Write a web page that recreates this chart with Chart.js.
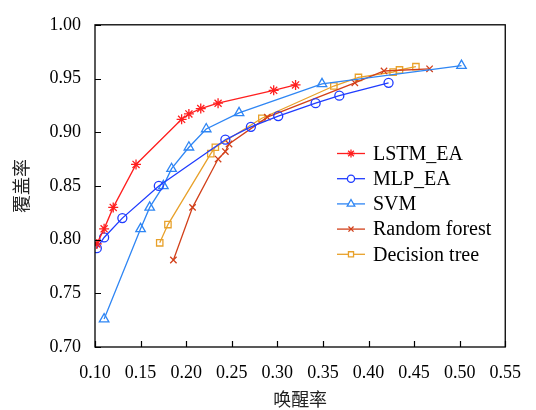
<!DOCTYPE html>
<html>
<head>
<meta charset="utf-8">
<script src="https://cdn.jsdelivr.net/npm/chart.js@4/dist/chart.umd.min.js"></script>
<style>
html,body{margin:0;padding:0;background:#fff;}
#wrap{width:536px;height:410px;position:relative;}
</style>
</head>
<body>
<div id="wrap"><canvas id="c" width="536" height="410"></canvas></div>
<script>
// Data
const seriesNames = ["LSTM_EA", "MLP_EA", "SVM", "Random forest", "Decision tree"];

const lstmX = [0.102, 0.110, 0.120, 0.145, 0.195, 0.203, 0.216, 0.235, 0.296, 0.320];
const lstmY = [0.796, 0.810, 0.830, 0.870, 0.912, 0.917, 0.922, 0.927, 0.939, 0.944];

const mlpX = [0.102, 0.110, 0.130, 0.170, 0.243, 0.271, 0.301, 0.342, 0.368, 0.422];
const mlpY = [0.792, 0.802, 0.820, 0.850, 0.893, 0.905, 0.915, 0.927, 0.934, 0.946];

const svmX = [0.110, 0.150, 0.160, 0.175, 0.184, 0.203, 0.222, 0.258, 0.349, 0.502];
const svmY = [0.726, 0.810, 0.830, 0.850, 0.866, 0.886, 0.903, 0.918, 0.945, 0.962];

const rfX = [0.186, 0.207, 0.235, 0.243, 0.247, 0.289, 0.385, 0.417, 0.467];
const rfY = [0.781, 0.830, 0.875, 0.882, 0.889, 0.914, 0.946, 0.957, 0.959];

const dtX = [0.171, 0.180, 0.227, 0.232, 0.283, 0.362, 0.389, 0.427, 0.434, 0.452];
const dtY = [0.797, 0.814, 0.880, 0.886, 0.913, 0.943, 0.951, 0.956, 0.958, 0.961];

const xTicks = [0.10, 0.15, 0.20, 0.25, 0.30, 0.35, 0.40, 0.45, 0.50, 0.55];
const yTicks = [0.70, 0.75, 0.80, 0.85, 0.90, 0.95, 1.00];

const xTitle = "唤醒率";
const yTitle = "覆盖率";

function pts(xs, ys){ return xs.map((x,i)=>({x:x, y:ys[i]})); }

const styles = [
  {color:"#ff1f1f", point:"star", r:5},
  {color:"#1f3cff", point:"circle", r:4.5},
  {color:"#2f86f4", point:"triangle", r:5.5},
  {color:"#d2401a", point:"crossRot", r:4.5},
  {color:"#e8a12a", point:"rect", r:4.5}
];
const dataPairs = [[lstmX,lstmY],[mlpX,mlpY],[svmX,svmY],[rfX,rfY],[dtX,dtY]];

const datasets = dataPairs.map((p,i)=>({
  label: seriesNames[i],
  data: pts(p[0], p[1]),
  showLine: true,
  borderColor: styles[i].color,
  backgroundColor: "rgba(0,0,0,0)",
  borderWidth: 1.3,
  pointStyle: styles[i].point,
  pointRadius: styles[i].r,
  pointBorderColor: styles[i].color,
  pointBackgroundColor: "rgba(0,0,0,0)",
  pointBorderWidth: 1.3,
  tension: 0
}));

const CA = {left:95, right:512, top:21, bottom:347};

const framePlugin = {
  id: "frame",
  afterDatasetsDraw(chart){
    const ctx = chart.ctx, a = chart.chartArea;
    const xs = chart.scales.x, ys = chart.scales.y;
    ctx.save();
    ctx.strokeStyle = "#000";
    ctx.lineWidth = 1.3;
    ctx.strokeRect(a.left, a.top, a.right - a.left, a.bottom - a.top);
    ctx.lineWidth = 1.2;
    ctx.beginPath();
    xTicks.forEach(v=>{
      const px = Math.round(xs.getPixelForValue(v)) + 0.5;
      ctx.moveTo(px, a.bottom); ctx.lineTo(px, a.bottom - 6);
    });
    yTicks.forEach(v=>{
      const py = Math.round(ys.getPixelForValue(v)) + 0.5;
      ctx.moveTo(a.left, py); ctx.lineTo(a.left + 6, py);
    });
    ctx.stroke();

    // legend
    const lx0 = 337, lx1 = 365, tx = 373, y0 = 153.5, dy = 25.2;
    ctx.font = "20px 'Liberation Serif'";
    ctx.textBaseline = "middle";
    ctx.textAlign = "left";
    chart.data.datasets.forEach((ds,i)=>{
      const y = y0 + i*dy;
      ctx.strokeStyle = ds.borderColor;
      ctx.lineWidth = 1.3;
      ctx.beginPath(); ctx.moveTo(lx0, y); ctx.lineTo(lx1, y); ctx.stroke();
      ctx.fillStyle = "#ffffff";
      Chart.helpers.drawPoint(ctx, {
        pointStyle: ds.pointStyle, radius: ds.pointRadius * 0.8, rotation: 0,
        borderWidth: 1.3
      }, (lx0+lx1)/2, y);
      ctx.fillStyle = "#000";
      ctx.fillText(ds.label, tx, y + 1);
    });
    ctx.restore();
  }
};

new Chart(document.getElementById("c"), {
  type: "scatter",
  data: { datasets },
  options: {
    responsive: false,
    animation: false,
    layout: { padding: { left: 0, right: 536 - CA.right, top: CA.top, bottom: 0 } },
    plugins: { legend: { display: false }, tooltip: { enabled: false } },
    scales: {
      x: {
        type: "linear", min: 0.10, max: 0.55,
        afterBuildTicks(s){ s.ticks = xTicks.map(v=>({value:v})); },
        afterFit(s){ s.height = 410 - CA.bottom; },
        grid: { display: false, drawTicks: false },
        border: { display: false },
        ticks: {
          padding: 15, color: "#000",
          font: { family: "'Liberation Serif'", size: 18 },
          maxRotation: 0, autoSkip: false,
          callback: v => Number(v).toFixed(2)
        },
        title: {
          display: true, text: xTitle, color: "#222",
          font: { family: "'Noto Sans CJK SC'", size: 18 },
          padding: { top: 4, bottom: 0 }
        }
      },
      y: {
        type: "linear", min: 0.70, max: 1.00,
        afterBuildTicks(s){ s.ticks = yTicks.map(v=>({value:v})); },
        afterFit(s){ s.width = CA.left; },
        grid: { display: false, drawTicks: false },
        border: { display: false },
        ticks: {
          padding: 14, color: "#000",
          font: { family: "'Liberation Serif'", size: 18 },
          autoSkip: false,
          callback: v => Number(v).toFixed(2)
        },
        title: {
          display: true, text: yTitle, color: "#222",
          font: { family: "'Noto Sans CJK SC'", size: 18 },
          padding: { top: 10, bottom: 0 }
        }
      }
    }
  },
  plugins: [framePlugin]
});
</script>
</body>
</html>
